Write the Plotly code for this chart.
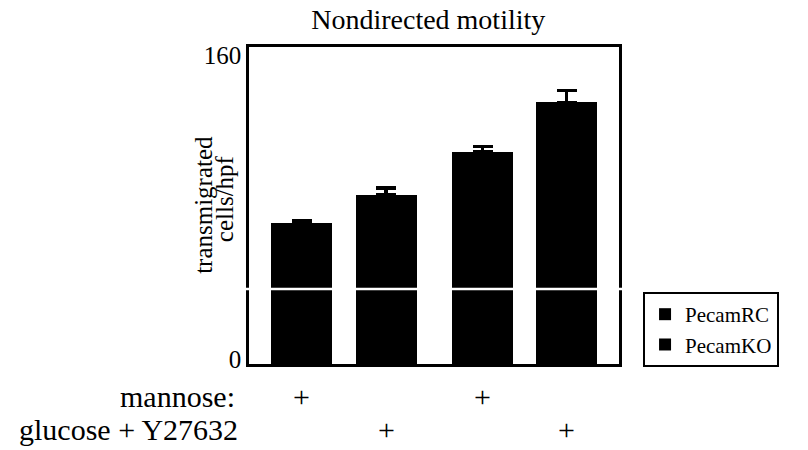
import plotly.graph_objects as go

# ---- data ----
conditions = ["mannose RC", "glucose+Y27632 RC", "mannose KO", "glucose+Y27632 KO"]
bar_totals = [74.0, 88.9, 111.6, 137.7]      # transmigrated cells/hpf
bar_errors = [1.3, 3.7, 2.9, 6.2]
lower_segment = [39.5, 39.5, 39.5, 39.5]      # part below the white break line
mannose_marks = ["+", "", "+", ""]
glucose_marks = ["", "+", "", "+"]
series_names = ["PecamRC", "PecamKO"]
y_tick_vals = [0, 160]
y_tick_text = ["0", "160"]
break_value = 39.5

# ---- layout constants ----
x_pos = [1, 2, 3.14, 4.13]
FONT = "Liberation Serif, Times New Roman, serif"

upper_segment = [t - l for t, l in zip(bar_totals, lower_segment)]

fig = go.Figure()
fig.add_trace(go.Bar(
    x=x_pos, y=lower_segment, name=series_names[1],
    marker=dict(color="black", line=dict(width=0)),
    width=0.72,
))
fig.add_trace(go.Bar(
    x=x_pos, y=upper_segment, name=series_names[0],
    marker=dict(color="black", line=dict(width=0)),
    width=0.72,
    error_y=dict(type="data", array=bar_errors, arrayminus=[0] * 4, symmetric=False,
                 color="black", thickness=3.5, width=10),
))

# axis break line across the frame
fig.add_shape(type="line", xref="paper", yref="y", x0=-0.02, x1=1.02,
              y0=break_value, y1=break_value,
              line=dict(color="white", width=2.5), layer="above")

# condition marks below axis
for xp, m in zip(x_pos, mannose_marks):
    if m:
        fig.add_annotation(x=xp, y=-0.101, xref="x", yref="paper", text=m,
                           showarrow=False, font=dict(family=FONT, size=30, color="black"),
                           xanchor="center", yanchor="middle")
for xp, g in zip(x_pos, glucose_marks):
    if g:
        fig.add_annotation(x=xp, y=-0.208, xref="x", yref="paper", text=g,
                           showarrow=False, font=dict(family=FONT, size=30, color="black"),
                           xanchor="center", yanchor="middle")

fig.add_annotation(x=0, xshift=-12, y=-0.101, xref="paper", yref="paper", text="mannose:",
                   showarrow=False, font=dict(family=FONT, size=30, color="black"),
                   xanchor="right", yanchor="middle")
fig.add_annotation(x=0, xshift=-9, y=-0.208, xref="paper", yref="paper", text="glucose + Y27632",
                   showarrow=False, font=dict(family=FONT, size=30, color="black"),
                   xanchor="right", yanchor="middle")

# y-axis title, two tightly spaced lines
fig.add_annotation(x=0, xshift=-45, y=0.502, xref="paper", yref="paper", text="transmigrated",
                   textangle=-90, showarrow=False,
                   font=dict(family=FONT, size=25, color="black"),
                   xanchor="center", yanchor="middle")
fig.add_annotation(x=0, xshift=-25, y=0.52, xref="paper", yref="paper", text="cells/hpf",
                   textangle=-90, showarrow=False,
                   font=dict(family=FONT, size=25, color="black"),
                   xanchor="center", yanchor="middle")

fig.update_layout(
    width=808, height=450,
    margin=dict(l=249, r=189, t=47, b=86, autoexpand=False),
    paper_bgcolor="white", plot_bgcolor="white",
    barmode="stack", bargap=0,
    title=dict(text="Nondirected motility", x=0.53, xanchor="center",
               y=1 - 19 / 450, yanchor="middle",
               font=dict(family=FONT, size=28, color="black")),
    font=dict(family=FONT, color="black"),
    showlegend=True,
    legend=dict(x=1.065, y=0.227, xanchor="left", yanchor="top",
                traceorder="reversed", bordercolor="black", borderwidth=2,
                font=dict(family=FONT, size=21, color="black"),
                itemwidth=30, tracegroupgap=0, bgcolor="white"),
    xaxis=dict(range=[0.379, 4.75], showticklabels=False, ticks="", showgrid=False,
               zeroline=False, showline=True, linecolor="black", linewidth=2.5, mirror=True),
    yaxis=dict(range=[0, 166.8], tickvals=y_tick_vals, ticktext=y_tick_text, ticks="",
               ticklabelshift=-5,
               showgrid=False, zeroline=False, showline=True, linecolor="black",
               linewidth=2.5, mirror=True, tickfont=dict(family=FONT, size=25, color="black")),
)

fig.write_html("out.html",
               config={"displayModeBar": False},
               post_script="document.body.style.margin='0px';document.body.style.overflow='hidden';")
